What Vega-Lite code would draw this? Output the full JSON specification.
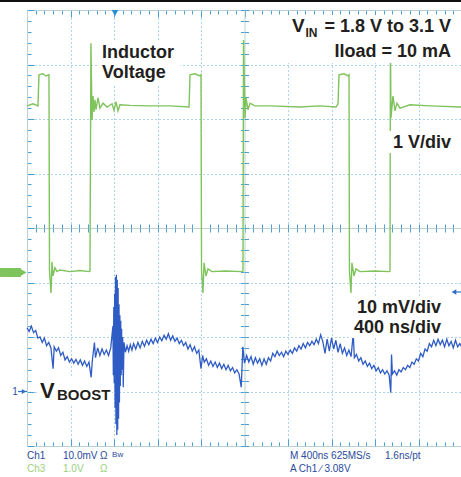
{
  "$schema": "https://vega.github.io/schema/vega-lite/v6.json",
  "width": 435,
  "height": 436,
  "autosize": {"type": "none"},
  "padding": {"left": 27, "top": 10, "right": 0, "bottom": 31},
  "background": "white",
  "config": {"view": {"stroke": null}},
  "resolve": {"scale": {"y": "independent"}, "axis": {"x": "independent", "y": "independent"}},
  "datasets": {
    "one": [{}],
    "green": [
      {"t":0,"v":3.04},{"t":55,"v":3.08},{"t":101,"v":3.04},{"t":110,"v":3.61},{"t":147,"v":3.63},{"t":175,"v":3.59},{"t":202,"v":3.61},
      {"t":207,"v":0.01},{"t":221,"v":-0.39},{"t":230,"v":0.18},{"t":239,"v":-0.08},{"t":257,"v":0.07},{"t":276,"v":0.0},{"t":303,"v":0.03},{"t":395,"v":0.0},{"t":487,"v":0.02},{"t":570,"v":0.0},{"t":579,"v":0.01},
      {"t":588,"v":4.19},{"t":598,"v":2.78},{"t":607,"v":3.22},{"t":616,"v":2.93},{"t":625,"v":3.15},{"t":634,"v":2.97},{"t":653,"v":3.19},{"t":671,"v":3.0},{"t":699,"v":3.09},{"t":736,"v":3.02},{"t":782,"v":3.08},{"t":800,"v":2.96},{"t":818,"v":3.12},{"t":837,"v":2.95},{"t":855,"v":3.06},{"t":947,"v":3.05},{"t":1131,"v":3.04},{"t":1315,"v":3.04},{"t":1490,"v":3.02},
      {"t":1499,"v":3.61},{"t":1545,"v":3.63},{"t":1591,"v":3.59},{"t":1600,"v":3.61},
      {"t":1605,"v":0.01},{"t":1618,"v":-0.39},{"t":1628,"v":0.16},{"t":1646,"v":-0.08},{"t":1664,"v":0.05},{"t":1701,"v":0.0},{"t":1821,"v":0.01},{"t":1977,"v":0.0},{"t":1986,"v":0.01},
      {"t":1991,"v":4.25},{"t":2005,"v":2.82},{"t":2014,"v":3.19},{"t":2032,"v":2.97},{"t":2051,"v":3.09},{"t":2096,"v":3.04},{"t":2234,"v":3.04},{"t":2510,"v":3.02},{"t":2694,"v":3.04},{"t":2842,"v":3.02},{"t":2860,"v":3.08},
      {"t":2869,"v":3.61},{"t":2915,"v":3.63},{"t":2952,"v":3.59},{"t":2961,"v":3.61},
      {"t":2965,"v":0.01},{"t":2979,"v":-0.39},{"t":2988,"v":0.16},{"t":3007,"v":-0.08},{"t":3025,"v":0.05},{"t":3062,"v":0.0},{"t":3200,"v":0.01},{"t":3329,"v":0.0},{"t":3338,"v":0.01},
      {"t":3342,"v":4.25},{"t":3347,"v":2.82},{"t":3365,"v":3.22},{"t":3384,"v":2.95},{"t":3402,"v":3.09},{"t":3430,"v":3.0},{"t":3522,"v":3.06},{"t":3706,"v":3.04},{"t":4000,"v":3.02}
    ],
    "blue": [
      {"t":0,"v":11.7},{"t":20,"v":11.0},{"t":40,"v":12.0},{"t":60,"v":10.8},{"t":80,"v":11.2},{"t":100,"v":9.8},{"t":120,"v":10.0},{"t":140,"v":9.0},{"t":160,"v":9.8},{"t":180,"v":8.4},{"t":200,"v":9.0},{"t":220,"v":8.0},{"t":240,"v":4.2},{"t":250,"v":8.2},{"t":270,"v":7.4},{"t":290,"v":8.0},{"t":310,"v":6.6},{"t":330,"v":7.2},{"t":350,"v":5.8},{"t":370,"v":6.4},{"t":390,"v":5.4},{"t":410,"v":6.0},{"t":430,"v":5.2},{"t":450,"v":5.9},{"t":470,"v":5.0},{"t":490,"v":5.8},{"t":510,"v":4.8},{"t":530,"v":5.6},{"t":550,"v":4.6},{"t":570,"v":5.4},{"t":590,"v":2.6},{"t":600,"v":5.5},{"t":620,"v":9.0},{"t":630,"v":6.2},{"t":650,"v":8.0},{"t":670,"v":6.6},{"t":690,"v":7.8},{"t":710,"v":6.8},{"t":730,"v":7.6},{"t":750,"v":6.6},{"t":770,"v":8.0},
      {"t":790,"v":12.0},{"t":794,"v":3.0},{"t":798,"v":15.5},{"t":802,"v":1.5},{"t":806,"v":18.0},{"t":810,"v":-3.0},{"t":814,"v":21.0},{"t":818,"v":-6.0},{"t":822,"v":21.4},{"t":826,"v":-8.0},{"t":830,"v":20.5},{"t":834,"v":-7.0},{"t":838,"v":19.0},{"t":842,"v":-5.0},{"t":846,"v":16.0},{"t":850,"v":-2.0},{"t":854,"v":14.0},{"t":858,"v":1.0},{"t":862,"v":13.0},{"t":866,"v":3.0},{"t":870,"v":11.5},{"t":874,"v":4.0},{"t":880,"v":10.0},{"t":885,"v":0.8},{"t":892,"v":9.0},
      {"t":905,"v":7.2},{"t":920,"v":8.4},{"t":935,"v":7.4},{"t":950,"v":8.6},{"t":965,"v":7.6},{"t":980,"v":8.8},{"t":1000,"v":7.8},{"t":1020,"v":9.0},{"t":1040,"v":8.0},{"t":1060,"v":9.2},{"t":1080,"v":8.3},{"t":1100,"v":9.4},{"t":1120,"v":8.6},{"t":1140,"v":9.6},{"t":1160,"v":8.8},{"t":1180,"v":9.8},{"t":1200,"v":9.0},{"t":1220,"v":10.0},{"t":1240,"v":9.3},{"t":1260,"v":10.3},{"t":1280,"v":9.6},{"t":1300,"v":10.6},{"t":1320,"v":9.4},{"t":1340,"v":10.2},{"t":1360,"v":9.2},{"t":1380,"v":9.8},{"t":1400,"v":8.8},{"t":1420,"v":9.4},{"t":1440,"v":8.4},{"t":1460,"v":9.0},{"t":1480,"v":7.8},{"t":1500,"v":8.6},{"t":1520,"v":7.4},{"t":1540,"v":8.2},{"t":1560,"v":7.0},{"t":1580,"v":7.6},{"t":1600,"v":4.2},{"t":1615,"v":6.6},{"t":1630,"v":5.4},{"t":1650,"v":6.0},{"t":1670,"v":4.8},{"t":1690,"v":5.6},{"t":1710,"v":4.6},{"t":1730,"v":5.4},{"t":1750,"v":4.4},{"t":1770,"v":5.2},{"t":1790,"v":4.2},{"t":1810,"v":5.0},{"t":1830,"v":4.0},{"t":1850,"v":4.8},{"t":1870,"v":3.8},{"t":1890,"v":4.4},{"t":1910,"v":3.4},{"t":1930,"v":4.0},{"t":1950,"v":3.2},{"t":1970,"v":0.8},{"t":1985,"v":8.2},
      {"t":2000,"v":5.2},{"t":2020,"v":6.6},{"t":2040,"v":5.4},{"t":2060,"v":6.4},{"t":2080,"v":5.0},{"t":2100,"v":6.2},{"t":2120,"v":5.2},{"t":2140,"v":6.0},{"t":2160,"v":4.8},{"t":2180,"v":6.0},{"t":2200,"v":5.0},{"t":2220,"v":6.2},{"t":2240,"v":5.6},{"t":2260,"v":7.0},{"t":2280,"v":6.4},{"t":2300,"v":7.4},{"t":2320,"v":6.6},{"t":2340,"v":7.2},{"t":2360,"v":6.4},{"t":2380,"v":7.4},{"t":2400,"v":6.8},{"t":2420,"v":7.6},{"t":2440,"v":7.0},{"t":2460,"v":8.0},{"t":2480,"v":7.4},{"t":2500,"v":8.4},{"t":2520,"v":7.8},{"t":2540,"v":8.8},{"t":2560,"v":8.0},{"t":2580,"v":9.0},{"t":2600,"v":8.4},{"t":2620,"v":9.2},{"t":2640,"v":8.6},{"t":2660,"v":9.6},{"t":2680,"v":8.8},{"t":2700,"v":10.4},{"t":2720,"v":9.2},{"t":2740,"v":7.0},{"t":2760,"v":9.6},{"t":2780,"v":7.4},{"t":2800,"v":9.8},{"t":2820,"v":7.8},{"t":2840,"v":9.4},{"t":2860,"v":7.2},{"t":2880,"v":8.8},{"t":2900,"v":7.0},{"t":2920,"v":8.0},{"t":2940,"v":6.6},{"t":2960,"v":7.6},{"t":2980,"v":6.4},{"t":3000,"v":10.6},
      {"t":3010,"v":6.2},{"t":3030,"v":6.8},{"t":3050,"v":5.6},{"t":3070,"v":6.2},{"t":3090,"v":5.0},{"t":3110,"v":5.6},{"t":3130,"v":4.6},{"t":3150,"v":5.2},{"t":3170,"v":4.2},{"t":3190,"v":4.8},{"t":3210,"v":3.8},{"t":3230,"v":4.4},{"t":3250,"v":3.4},{"t":3270,"v":4.0},{"t":3290,"v":3.2},{"t":3310,"v":3.8},{"t":3330,"v":3.0},{"t":3345,"v":-0.2},{"t":3352,"v":6.8},{"t":3360,"v":3.2},{"t":3380,"v":3.8},{"t":3400,"v":3.0},{"t":3420,"v":4.0},{"t":3440,"v":3.6},{"t":3460,"v":4.4},{"t":3480,"v":4.0},{"t":3500,"v":4.8},{"t":3520,"v":4.4},{"t":3540,"v":5.4},{"t":3560,"v":5.0},{"t":3580,"v":6.0},{"t":3600,"v":5.6},{"t":3620,"v":7.0},{"t":3640,"v":6.4},{"t":3660,"v":7.8},{"t":3680,"v":7.4},{"t":3700,"v":8.8},{"t":3720,"v":8.2},{"t":3740,"v":9.4},{"t":3760,"v":8.4},{"t":3780,"v":9.6},{"t":3800,"v":8.6},{"t":3820,"v":9.4},{"t":3840,"v":8.2},{"t":3860,"v":9.6},{"t":3880,"v":8.4},{"t":3900,"v":9.2},{"t":3920,"v":8.0},{"t":3940,"v":9.4},{"t":3960,"v":8.2},{"t":3980,"v":8.8},{"t":4000,"v":8.0}
    ]
  },
  "layer": [
    {
      "data": {"name": "one"},
      "mark": {"type": "rule", "color": "#2f6fc8", "strokeWidth": 1.2},
      "encoding": {
        "x": {"datum": -83, "type": "quantitative", "scale": {"domain": [0, 4000], "nice": false, "zero": false},
          "axis": {"orient": "bottom", "title": null, "labels": false, "domain": false, "ticks": false,
            "values": [400, 800, 1200, 1600, 2400, 2800, 3200, 3600],
            "grid": true, "gridColor": "#5fa8da", "gridDash": [1, 3], "gridWidth": 1, "gridOpacity": 1}},
        "x2": {"datum": 0},
        "y": {"datum": 0, "type": "quantitative", "scale": {"domain": [-10, 70], "nice": false, "zero": false},
          "axis": {"orient": "left", "title": null, "labels": false, "domain": false, "ticks": false,
            "values": [0, 10, 20, 40, 50, 60],
            "grid": true, "gridColor": "#5fa8da", "gridDash": [1, 3], "gridWidth": 1, "gridOpacity": 1}}
      }
    },
    {
      "data": {"name": "green"},
      "mark": {"type": "line", "color": "#7fc35c", "strokeWidth": 1.4},
      "encoding": {
        "x": {"field": "t", "type": "quantitative", "scale": {"domain": [0, 4000], "nice": false, "zero": false},
          "axis": {"orient": "bottom", "title": null, "labels": false,
            "values": [0,80,160,240,320,400,480,560,640,720,800,880,960,1040,1120,1200,1280,1360,1440,1520,1600,1680,1760,1840,1920,2000,2080,2160,2240,2320,2400,2480,2560,2640,2720,2800,2880,2960,3040,3120,3200,3280,3360,3440,3520,3600,3680,3760,3840,3920,4000],
            "domain": true, "domainColor": "#b9cfd8", "domainWidth": 1,
            "ticks": true, "tickColor": "#4a9fd4", "tickWidth": 1,
            "tickSize": {"condition": {"test": "datum.value % 400 === 0", "value": -7}, "value": -4},
            "grid": false}},
        "y": {"field": "v", "type": "quantitative", "scale": {"domain": [-3.2, 4.8], "nice": false, "zero": false}, "axis": null}
      }
    },
    {
      "data": {"name": "blue"},
      "mark": {"type": "line", "color": "#2f5cc4", "strokeWidth": 1.3},
      "encoding": {
        "x": {"field": "t", "type": "quantitative", "scale": {"domain": [0, 4000], "nice": false, "zero": false},
          "axis": {"orient": "top", "title": null, "labels": false,
            "values": [0,80,160,240,320,400,480,560,640,720,800,880,960,1040,1120,1200,1280,1360,1440,1520,1600,1680,1760,1840,1920,2000,2080,2160,2240,2320,2400,2480,2560,2640,2720,2800,2880,2960,3040,3120,3200,3280,3360,3440,3520,3600,3680,3760,3840,3920,4000],
            "domain": true, "domainColor": "#b9cfd8", "domainWidth": 1,
            "ticks": true, "tickColor": "#4a9fd4", "tickWidth": 1,
            "tickSize": {"condition": {"test": "datum.value % 400 === 0", "value": -7}, "value": -4},
            "grid": false}},
        "y": {"field": "v", "type": "quantitative", "scale": {"domain": [-10, 70], "nice": false, "zero": false},
          "axis": {"orient": "left", "title": null, "labels": false,
            "values": [-10,-8,-6,-4,-2,0,2,4,6,8,10,12,14,16,18,20,22,24,26,28,30,32,34,36,38,40,42,44,46,48,50,52,54,56,58,60,62,64,66,68,70],
            "domain": true, "domainColor": "#b9cfd8", "domainWidth": 1,
            "ticks": true, "tickColor": "#4a9fd4", "tickWidth": 1,
            "tickSize": {"condition": {"test": "datum.value % 10 === 0", "value": -7}, "value": -4},
            "grid": false}}
      }
    },
    {
      "data": {"name": "one"},
      "mark": {"type": "rect", "color": "#7fc35c"},
      "encoding": {
        "x": {"datum": -248, "type": "quantitative", "scale": {"domain": [0, 4000], "nice": false, "zero": false},
          "axis": {"orient": "bottom", "offset": -218, "title": null, "labels": false,
            "values": [0,80,160,240,320,400,480,560,640,720,800,880,960,1040,1120,1200,1280,1360,1440,1520,1600,1680,1760,1840,1920,2000,2080,2160,2240,2320,2400,2480,2560,2640,2720,2800,2880,2960,3040,3120,3200,3280,3360,3440,3520,3600,3680,3760,3840,3920,4000],
            "domain": true, "domainColor": "#bcd4c8", "domainWidth": 1,
            "ticks": true, "tickColor": "#4a9fd4", "tickWidth": 1, "tickSize": 4, "grid": false}},
        "x2": {"datum": -55},
        "y": {"datum": 0.066, "type": "quantitative", "scale": {"domain": [-3.2, 4.8], "nice": false, "zero": false}, "axis": null},
        "y2": {"datum": -0.099}
      }
    },
    {
      "data": {"name": "one"},
      "mark": {"type": "point", "shape": "triangle-right", "filled": true, "size": 70, "color": "#7fc35c", "opacity": 1},
      "encoding": {
        "x": {"datum": -37, "type": "quantitative", "scale": {"domain": [0, 4000], "nice": false, "zero": false},
          "axis": {"orient": "top", "offset": -218, "title": null, "labels": false,
            "values": [0,80,160,240,320,400,480,560,640,720,800,880,960,1040,1120,1200,1280,1360,1440,1520,1600,1680,1760,1840,1920,2000,2080,2160,2240,2320,2400,2480,2560,2640,2720,2800,2880,2960,3040,3120,3200,3280,3360,3440,3520,3600,3680,3760,3840,3920,4000],
            "domain": false, "ticks": true, "tickColor": "#4a9fd4", "tickWidth": 1, "tickSize": 4, "grid": false}},
        "y": {"datum": -0.017, "type": "quantitative", "scale": {"domain": [-3.2, 4.8], "nice": false, "zero": false}, "axis": null}
      }
    },
    {
      "data": {"name": "one"},
      "mark": {"type": "text", "align": "center", "baseline": "middle", "font": "Liberation Sans", "fontSize": 10, "color": "#2f4fa8"},
      "encoding": {
        "x": {"datum": -110, "type": "quantitative", "scale": {"domain": [0, 4000], "nice": false, "zero": false}, "axis": null},
        "y": {"datum": 0, "type": "quantitative", "scale": {"domain": [-10, 70], "nice": false, "zero": false},
          "axis": {"orient": "left", "offset": -217.5, "title": null, "labels": false,
            "values": [-10,-8,-6,-4,-2,0,2,4,6,8,10,12,14,16,18,20,22,24,26,28,30,32,34,36,38,40,42,44,46,48,50,52,54,56,58,60,62,64,66,68,70],
            "domain": true, "domainColor": "#bcd4c8", "domainWidth": 1,
            "ticks": true, "tickColor": "#4a9fd4", "tickWidth": 1, "tickSize": 4, "grid": false}},
        "text": {"value": "1"}
      }
    },
    {
      "data": {"name": "one"},
      "mark": {"type": "point", "shape": "triangle-right", "filled": true, "size": 25, "color": "#2f6fc8", "opacity": 1},
      "encoding": {
        "x": {"datum": -28, "type": "quantitative", "scale": {"domain": [0, 4000], "nice": false, "zero": false}, "axis": null},
        "y": {"datum": 0, "type": "quantitative", "scale": {"domain": [-10, 70], "nice": false, "zero": false},
          "axis": {"orient": "right", "offset": -217.5, "title": null, "labels": false,
            "values": [-10,-8,-6,-4,-2,0,2,4,6,8,10,12,14,16,18,20,22,24,26,28,30,32,34,36,38,40,42,44,46,48,50,52,54,56,58,60,62,64,66,68,70],
            "domain": false, "ticks": true, "tickColor": "#4a9fd4", "tickWidth": 1, "tickSize": 4, "grid": false}}
      }
    },
    {
      "data": {"name": "one"},
      "mark": {"type": "point", "shape": "triangle-down", "filled": true, "size": 45, "color": "#2a8fd0", "opacity": 1},
      "encoding": {
        "x": {"datum": 809, "type": "quantitative", "scale": {"domain": [0, 4000], "nice": false, "zero": false}, "axis": null},
        "y": {"datum": 4.745, "type": "quantitative", "scale": {"domain": [-3.2, 4.8], "nice": false, "zero": false}, "axis": null}
      }
    },
    {
      "data": {"name": "one"},
      "mark": {"type": "point", "shape": "triangle-left", "filled": true, "size": 30, "color": "#2f6fc8", "opacity": 1},
      "encoding": {
        "x": {"datum": 3926, "type": "quantitative", "scale": {"domain": [0, 4000], "nice": false, "zero": false}, "axis": null},
        "y": {"datum": -0.374, "type": "quantitative", "scale": {"domain": [-3.2, 4.8], "nice": false, "zero": false}, "axis": null}
      }
    },
    {
      "data": {"name": "one"},
      "mark": {"type": "rule", "color": "#2f6fc8", "strokeWidth": 1.2},
      "encoding": {
        "x": {"datum": 3926, "type": "quantitative", "scale": {"domain": [0, 4000], "nice": false, "zero": false}, "axis": null},
        "x2": {"datum": 3991},
        "y": {"datum": -0.374, "type": "quantitative", "scale": {"domain": [-3.2, 4.8], "nice": false, "zero": false}, "axis": null}
      }
    },
    {
      "data": {"name": "one"},
      "mark": {"type": "rule", "color": "#111111", "strokeWidth": 2},
      "encoding": {
        "x": {"datum": -300, "type": "quantitative", "scale": {"domain": [0, 4000], "nice": false, "zero": false}, "axis": null},
        "x2": {"datum": 4100},
        "y": {"datum": 4.965, "type": "quantitative", "scale": {"domain": [-3.2, 4.8], "nice": false, "zero": false}, "axis": null}
      }
    },
    {
      "data": {"name": "one"},
      "mark": {"type": "rect", "color": "white"},
      "encoding": {
        "x": {"datum": 653, "type": "quantitative", "scale": {"domain": [0, 4000], "nice": false, "zero": false}, "axis": null},
        "x2": {"datum": 1410},
        "y": {"datum": 4.25, "type": "quantitative", "scale": {"domain": [-3.2, 4.8], "nice": false, "zero": false}, "axis": null},
        "y2": {"datum": 3.44}
      }
    },
    {
      "data": {"name": "one"},
      "mark": {"type": "rect", "color": "white"},
      "encoding": {
        "x": {"datum": 2400, "type": "quantitative", "scale": {"domain": [0, 4000], "nice": false, "zero": false}, "axis": null},
        "x2": {"datum": 4000},
        "y": {"datum": 4.708, "type": "quantitative", "scale": {"domain": [-3.2, 4.8], "nice": false, "zero": false}, "axis": null},
        "y2": {"datum": 3.827}
      }
    },
    {
      "data": {"name": "one"},
      "mark": {"type": "rect", "color": "white"},
      "encoding": {
        "x": {"datum": 3301, "type": "quantitative", "scale": {"domain": [0, 4000], "nice": false, "zero": false}, "axis": null},
        "x2": {"datum": 3945},
        "y": {"datum": 2.58, "type": "quantitative", "scale": {"domain": [-3.2, 4.8], "nice": false, "zero": false}, "axis": null},
        "y2": {"datum": 2.176}
      }
    },
    {
      "data": {"name": "one"},
      "mark": {"type": "rect", "color": "white"},
      "encoding": {
        "x": {"datum": 2970, "type": "quantitative", "scale": {"domain": [0, 4000], "nice": false, "zero": false}, "axis": null},
        "x2": {"datum": 3853},
        "y": {"datum": -0.484, "type": "quantitative", "scale": {"domain": [-3.2, 4.8], "nice": false, "zero": false}, "axis": null},
        "y2": {"datum": -1.218}
      }
    },
    {
      "data": {"name": "one"},
      "mark": {"type": "rect", "color": "white"},
      "encoding": {
        "x": {"datum": 101, "type": "quantitative", "scale": {"domain": [0, 4000], "nice": false, "zero": false}, "axis": null},
        "x2": {"datum": 782},
        "y": {"datum": -1.952, "type": "quantitative", "scale": {"domain": [-3.2, 4.8], "nice": false, "zero": false}, "axis": null},
        "y2": {"datum": -2.43}
      }
    },
    {
      "data": {"name": "one"},
      "mark": {"type": "text", "align": "left", "baseline": "alphabetic", "font": "Liberation Sans", "fontWeight": "bold", "fontSize": 18, "color": "#231f20"},
      "encoding": {
        "x": {"datum": 690, "type": "quantitative", "scale": {"domain": [0, 4000], "nice": false, "zero": false}, "axis": null},
        "y": {"datum": 3.919, "type": "quantitative", "scale": {"domain": [-3.2, 4.8], "nice": false, "zero": false}, "axis": null},
        "text": {"value": "Inductor"}
      }
    },
    {
      "data": {"name": "one"},
      "mark": {"type": "text", "align": "left", "baseline": "alphabetic", "font": "Liberation Sans", "fontWeight": "bold", "fontSize": 18, "color": "#231f20"},
      "encoding": {
        "x": {"datum": 690, "type": "quantitative", "scale": {"domain": [0, 4000], "nice": false, "zero": false}, "axis": null},
        "y": {"datum": 3.552, "type": "quantitative", "scale": {"domain": [-3.2, 4.8], "nice": false, "zero": false}, "axis": null},
        "text": {"value": "Voltage"}
      }
    },
    {
      "data": {"name": "one"},
      "mark": {"type": "text", "align": "left", "baseline": "alphabetic", "font": "Liberation Sans", "fontWeight": "bold", "fontSize": 19, "color": "#231f20"},
      "encoding": {
        "x": {"datum": 2437, "type": "quantitative", "scale": {"domain": [0, 4000], "nice": false, "zero": false}, "axis": null},
        "y": {"datum": 4.396, "type": "quantitative", "scale": {"domain": [-3.2, 4.8], "nice": false, "zero": false}, "axis": null},
        "text": {"value": "V"}
      }
    },
    {
      "data": {"name": "one"},
      "mark": {"type": "text", "align": "left", "baseline": "alphabetic", "font": "Liberation Sans", "fontWeight": "bold", "fontSize": 12, "color": "#231f20"},
      "encoding": {
        "x": {"datum": 2560, "type": "quantitative", "scale": {"domain": [0, 4000], "nice": false, "zero": false}, "axis": null},
        "y": {"datum": 4.305, "type": "quantitative", "scale": {"domain": [-3.2, 4.8], "nice": false, "zero": false}, "axis": null},
        "text": {"value": "IN"}
      }
    },
    {
      "data": {"name": "one"},
      "mark": {"type": "text", "align": "right", "baseline": "alphabetic", "font": "Liberation Sans", "fontWeight": "bold", "fontSize": 18, "color": "#231f20"},
      "encoding": {
        "x": {"datum": 3899, "type": "quantitative", "scale": {"domain": [0, 4000], "nice": false, "zero": false}, "axis": null},
        "y": {"datum": 4.396, "type": "quantitative", "scale": {"domain": [-3.2, 4.8], "nice": false, "zero": false}, "axis": null},
        "text": {"value": "= 1.8 V to 3.1 V"}
      }
    },
    {
      "data": {"name": "one"},
      "mark": {"type": "text", "align": "right", "baseline": "alphabetic", "font": "Liberation Sans", "fontWeight": "bold", "fontSize": 18, "color": "#231f20"},
      "encoding": {
        "x": {"datum": 3899, "type": "quantitative", "scale": {"domain": [0, 4000], "nice": false, "zero": false}, "axis": null},
        "y": {"datum": 3.938, "type": "quantitative", "scale": {"domain": [-3.2, 4.8], "nice": false, "zero": false}, "axis": null},
        "text": {"value": "Iload = 10 mA"}
      }
    },
    {
      "data": {"name": "one"},
      "mark": {"type": "text", "align": "right", "baseline": "alphabetic", "font": "Liberation Sans", "fontWeight": "bold", "fontSize": 18, "color": "#231f20"},
      "encoding": {
        "x": {"datum": 3899, "type": "quantitative", "scale": {"domain": [0, 4000], "nice": false, "zero": false}, "axis": null},
        "y": {"datum": 2.268, "type": "quantitative", "scale": {"domain": [-3.2, 4.8], "nice": false, "zero": false}, "axis": null},
        "text": {"value": "1 V/div"}
      }
    },
    {
      "data": {"name": "one"},
      "mark": {"type": "text", "align": "right", "baseline": "alphabetic", "font": "Liberation Sans", "fontWeight": "bold", "fontSize": 18, "color": "#231f20"},
      "encoding": {
        "x": {"datum": 3807, "type": "quantitative", "scale": {"domain": [0, 4000], "nice": false, "zero": false}, "axis": null},
        "y": {"datum": -0.76, "type": "quantitative", "scale": {"domain": [-3.2, 4.8], "nice": false, "zero": false}, "axis": null},
        "text": {"value": "10 mV/div"}
      }
    },
    {
      "data": {"name": "one"},
      "mark": {"type": "text", "align": "right", "baseline": "alphabetic", "font": "Liberation Sans", "fontWeight": "bold", "fontSize": 18, "color": "#231f20"},
      "encoding": {
        "x": {"datum": 3807, "type": "quantitative", "scale": {"domain": [0, 4000], "nice": false, "zero": false}, "axis": null},
        "y": {"datum": -1.127, "type": "quantitative", "scale": {"domain": [-3.2, 4.8], "nice": false, "zero": false}, "axis": null},
        "text": {"value": "400 ns/div"}
      }
    },
    {
      "data": {"name": "one"},
      "mark": {"type": "text", "align": "left", "baseline": "alphabetic", "font": "Liberation Sans", "fontWeight": "bold", "fontSize": 22, "color": "#231f20"},
      "encoding": {
        "x": {"datum": 120, "type": "quantitative", "scale": {"domain": [0, 4000], "nice": false, "zero": false}, "axis": null},
        "y": {"datum": -2.319, "type": "quantitative", "scale": {"domain": [-3.2, 4.8], "nice": false, "zero": false}, "axis": null},
        "text": {"value": "V"}
      }
    },
    {
      "data": {"name": "one"},
      "mark": {"type": "text", "align": "left", "baseline": "alphabetic", "font": "Liberation Sans", "fontWeight": "bold", "fontSize": 15, "color": "#231f20"},
      "encoding": {
        "x": {"datum": 276, "type": "quantitative", "scale": {"domain": [0, 4000], "nice": false, "zero": false}, "axis": null},
        "y": {"datum": -2.356, "type": "quantitative", "scale": {"domain": [-3.2, 4.8], "nice": false, "zero": false}, "axis": null},
        "text": {"value": "BOOST"}
      }
    },
    {
      "data": {"name": "one"},
      "mark": {"type": "text", "align": "left", "baseline": "alphabetic", "font": "Liberation Sans Narrow, Liberation Sans", "fontSize": 10, "color": "#2a4a9c"},
      "encoding": {
        "x": {"datum": 0, "type": "quantitative", "scale": {"domain": [0, 4000], "nice": false, "zero": false}, "axis": null},
        "y": {"datum": -3.439, "type": "quantitative", "scale": {"domain": [-3.2, 4.8], "nice": false, "zero": false}, "axis": null},
        "text": {"value": "Ch1"}
      }
    },
    {
      "data": {"name": "one"},
      "mark": {"type": "text", "align": "left", "baseline": "alphabetic", "font": "Liberation Sans Narrow, Liberation Sans", "fontSize": 10, "color": "#2a4a9c"},
      "encoding": {
        "x": {"datum": 331, "type": "quantitative", "scale": {"domain": [0, 4000], "nice": false, "zero": false}, "axis": null},
        "y": {"datum": -3.439, "type": "quantitative", "scale": {"domain": [-3.2, 4.8], "nice": false, "zero": false}, "axis": null},
        "text": {"value": "10.0mV"}
      }
    },
    {
      "data": {"name": "one"},
      "mark": {"type": "text", "align": "left", "baseline": "alphabetic", "font": "Liberation Sans Narrow, Liberation Sans", "fontSize": 10, "color": "#2a4a9c"},
      "encoding": {
        "x": {"datum": 671, "type": "quantitative", "scale": {"domain": [0, 4000], "nice": false, "zero": false}, "axis": null},
        "y": {"datum": -3.439, "type": "quantitative", "scale": {"domain": [-3.2, 4.8], "nice": false, "zero": false}, "axis": null},
        "text": {"value": "Ω"}
      }
    },
    {
      "data": {"name": "one"},
      "mark": {"type": "text", "align": "left", "baseline": "alphabetic", "font": "Liberation Sans Narrow, Liberation Sans", "fontSize": 8, "color": "#2a4a9c"},
      "encoding": {
        "x": {"datum": 782, "type": "quantitative", "scale": {"domain": [0, 4000], "nice": false, "zero": false}, "axis": null},
        "y": {"datum": -3.40, "type": "quantitative", "scale": {"domain": [-3.2, 4.8], "nice": false, "zero": false}, "axis": null},
        "text": {"value": "Bw"}
      }
    },
    {
      "data": {"name": "one"},
      "mark": {"type": "text", "align": "left", "baseline": "alphabetic", "font": "Liberation Sans Narrow, Liberation Sans", "fontSize": 10, "color": "#2a4a9c"},
      "encoding": {
        "x": {"datum": 2418, "type": "quantitative", "scale": {"domain": [0, 4000], "nice": false, "zero": false}, "axis": null},
        "y": {"datum": -3.439, "type": "quantitative", "scale": {"domain": [-3.2, 4.8], "nice": false, "zero": false}, "axis": null},
        "text": {"value": "M 400ns 625MS/s"}
      }
    },
    {
      "data": {"name": "one"},
      "mark": {"type": "text", "align": "left", "baseline": "alphabetic", "font": "Liberation Sans Narrow, Liberation Sans", "fontSize": 10, "color": "#2a4a9c"},
      "encoding": {
        "x": {"datum": 3292, "type": "quantitative", "scale": {"domain": [0, 4000], "nice": false, "zero": false}, "axis": null},
        "y": {"datum": -3.439, "type": "quantitative", "scale": {"domain": [-3.2, 4.8], "nice": false, "zero": false}, "axis": null},
        "text": {"value": "1.6ns/pt"}
      }
    },
    {
      "data": {"name": "one"},
      "mark": {"type": "text", "align": "left", "baseline": "alphabetic", "font": "Liberation Sans Narrow, Liberation Sans", "fontSize": 10, "color": "#9ccf7c"},
      "encoding": {
        "x": {"datum": 0, "type": "quantitative", "scale": {"domain": [0, 4000], "nice": false, "zero": false}, "axis": null},
        "y": {"datum": -3.677, "type": "quantitative", "scale": {"domain": [-3.2, 4.8], "nice": false, "zero": false}, "axis": null},
        "text": {"value": "Ch3"}
      }
    },
    {
      "data": {"name": "one"},
      "mark": {"type": "text", "align": "left", "baseline": "alphabetic", "font": "Liberation Sans Narrow, Liberation Sans", "fontSize": 10, "color": "#9ccf7c"},
      "encoding": {
        "x": {"datum": 331, "type": "quantitative", "scale": {"domain": [0, 4000], "nice": false, "zero": false}, "axis": null},
        "y": {"datum": -3.677, "type": "quantitative", "scale": {"domain": [-3.2, 4.8], "nice": false, "zero": false}, "axis": null},
        "text": {"value": "1.0V"}
      }
    },
    {
      "data": {"name": "one"},
      "mark": {"type": "text", "align": "left", "baseline": "alphabetic", "font": "Liberation Sans Narrow, Liberation Sans", "fontSize": 10, "color": "#9ccf7c"},
      "encoding": {
        "x": {"datum": 671, "type": "quantitative", "scale": {"domain": [0, 4000], "nice": false, "zero": false}, "axis": null},
        "y": {"datum": -3.677, "type": "quantitative", "scale": {"domain": [-3.2, 4.8], "nice": false, "zero": false}, "axis": null},
        "text": {"value": "Ω"}
      }
    },
    {
      "data": {"name": "one"},
      "mark": {"type": "text", "align": "left", "baseline": "alphabetic", "font": "Liberation Sans Narrow, Liberation Sans", "fontSize": 10, "color": "#2a4a9c"},
      "encoding": {
        "x": {"datum": 2418, "type": "quantitative", "scale": {"domain": [0, 4000], "nice": false, "zero": false}, "axis": null},
        "y": {"datum": -3.677, "type": "quantitative", "scale": {"domain": [-3.2, 4.8], "nice": false, "zero": false}, "axis": null},
        "text": {"value": "A  Ch1  ∕  3.08V"}
      }
    }
  ]
}
